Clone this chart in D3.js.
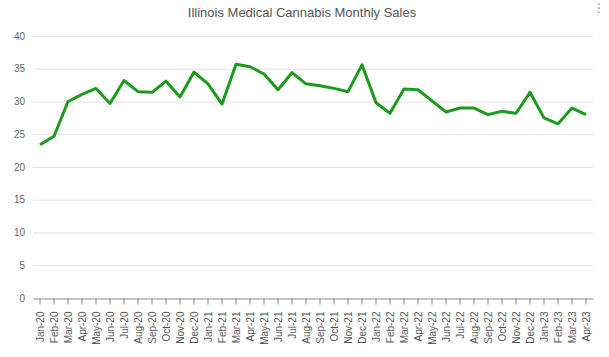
<!DOCTYPE html>
<html><head><meta charset="utf-8">
<script src="https://cdn.jsdelivr.net/npm/d3@7"></script>
<style>body{margin:0;background:#fff}svg{display:block}</style>
</head><body>
<script>
const months = ["Jan-20","Feb-20","Mar-20","Apr-20","May-20","Jun-20","Jul-20","Aug-20","Sep-20","Oct-20","Nov-20","Dec-20",
"Jan-21","Feb-21","Mar-21","Apr-21","May-21","Jun-21","Jul-21","Aug-21","Sep-21","Oct-21","Nov-21","Dec-21",
"Jan-22","Feb-22","Mar-22","Apr-22","May-22","Jun-22","Jul-22","Aug-22","Sep-22","Oct-22","Nov-22","Dec-22",
"Jan-23","Feb-23","Mar-23","Apr-23"];
const sales = [23.4,24.7,30.0,31.1,32.0,29.7,33.2,31.5,31.4,33.1,30.7,34.5,
32.7,29.6,35.7,35.3,34.2,31.8,34.4,32.7,32.4,32.0,31.5,35.6,
29.8,28.2,31.9,31.8,30.1,28.4,29.0,29.0,28.0,28.5,28.2,31.4,
27.5,26.6,29.0,28.0];
const yTicks = [0,5,10,15,20,25,30,35,40];
const title = "Illinois Medical Cannabis Monthly Sales";

const W = 609, H = 357;
const svg = d3.select("body").append("svg").attr("width", W).attr("height", H);
const x = d3.scaleBand().domain(months).range([33, 593]);
const y = d3.scaleLinear().domain([0, 40]).range([298, 36]);

// gridlines
svg.append("g").selectAll("line").data(yTicks.filter(d => d > 0)).join("line")
  .attr("x1", 33).attr("x2", 593)
  .attr("y1", d => y(d) + 0.5).attr("y2", d => y(d) + 0.5)
  .attr("stroke", "#e3e3e3").attr("stroke-width", 1);

// y labels
svg.append("g").selectAll("text").data(yTicks).join("text")
  .attr("x", 25).attr("y", d => y(d) + 3.5)
  .attr("text-anchor", "end")
  .attr("font-family", "Liberation Sans, Arial, sans-serif").attr("font-size", 10)
  .attr("fill", "#666").text(d => d);

// x axis
const xa = svg.append("g").attr("transform", "translate(0,298.5)")
  .call(d3.axisBottom(x).tickSize(6).tickSizeOuter(0));
xa.select(".domain").attr("stroke", "#888");
xa.selectAll(".tick line").attr("stroke", "#888");
xa.selectAll(".tick text")
  .attr("font-family", "Liberation Sans, Arial, sans-serif").attr("font-size", 10)
  .attr("fill", "#555")
  .attr("transform", "rotate(-90)")
  .attr("text-anchor", "end")
  .attr("x", -13).attr("y", 0).attr("dy", "0.35em");

// line
const line = d3.line().x((d, i) => x(months[i]) + x.bandwidth() / 2).y(d => y(d));
svg.append("path").datum(sales)
  .attr("d", line).attr("fill", "none")
  .attr("stroke", "#1b9a1b").attr("stroke-width", 3).attr("stroke-linejoin", "round");

// title
svg.append("text").attr("x", 302).attr("y", 17).attr("text-anchor", "middle")
  .attr("font-family", "Liberation Sans, Arial, sans-serif").attr("font-size", 13)
  .attr("fill", "#555").text(title);

// menu icon
svg.append("text").attr("x", 599).attr("y", 12).attr("text-anchor", "middle")
  .attr("font-family", "DejaVu Sans, sans-serif").attr("font-size", 12)
  .attr("fill", "#777").text("⋮");
</script>
</body></html>
